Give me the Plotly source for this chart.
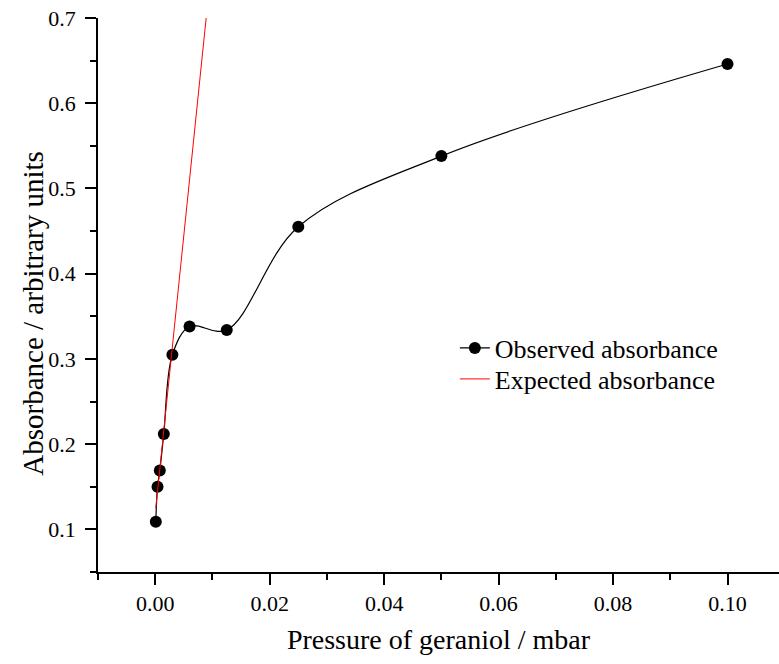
import plotly.graph_objects as go

# Observed absorbance vs. geraniol pressure
pressure = [0.0001, 0.0004, 0.0008, 0.0015, 0.003, 0.006, 0.0125, 0.025, 0.05, 0.1]
absorbance = [0.109, 0.150, 0.169, 0.212, 0.305, 0.338, 0.334, 0.455, 0.538, 0.646]

# Expected (linear) absorbance line
expected_x = [0.0001, 0.0089]
expected_y = [0.125, 0.700]

x_ticks = [0.00, 0.02, 0.04, 0.06, 0.08, 0.10]
y_ticks = [0.1, 0.2, 0.3, 0.4, 0.5, 0.6, 0.7]

FONT = "Liberation Serif, Times New Roman, serif"

fig = go.Figure()
fig.add_trace(go.Scatter(
    x=pressure, y=absorbance, mode="lines+markers",
    name="Observed absorbance", legend="legend",
    line=dict(color="black", width=1.2, shape="spline", smoothing=1.0),
    marker=dict(color="black", size=12),
))
fig.add_trace(go.Scatter(
    x=expected_x, y=expected_y, mode="lines",
    name="Expected absorbance", legend="legend2",
    line=dict(color="#ff0000", width=1),
))

axis_common = dict(
    showline=True, linecolor="black", linewidth=1.5,
    ticks="outside", ticklen=11, tickwidth=1.5, tickcolor="black",
    showgrid=False, zeroline=False, mirror=False,
    tickfont=dict(family=FONT, size=22, color="black"),
)

fig.update_xaxes(
    range=[-0.01, 0.109], tickvals=x_ticks, ticktext=[f"{v:.2f}" for v in x_ticks],
    minor=dict(dtick=0.01, tick0=0, ticks="outside", ticklen=6, tickwidth=1.5, tickcolor="black"),
    title=dict(text="Pressure of geraniol / mbar", font=dict(family=FONT, size=28, color="black"), standoff=14),
    **axis_common,
)
fig.update_yaxes(
    range=[0.05, 0.7], tickvals=y_ticks, ticktext=[f"{v:.1f}" for v in y_ticks],
    minor=dict(dtick=0.05, tick0=0, ticks="outside", ticklen=6, tickwidth=1.5, tickcolor="black"),
    ticklabelstandoff=5,
    **axis_common,
)

# Y-axis title, placed as a rotated annotation
fig.add_annotation(
    text="Absorbance / arbitrary units", textangle=-90,
    xref="paper", yref="paper", x=-0.0955, y=0.468,
    xanchor="center", yanchor="middle", showarrow=False,
    font=dict(family=FONT, size=29, color="black"),
)

legend_common = dict(
    x=0.524, xanchor="left", yanchor="top",
    font=dict(family=FONT, size=26, color="black"),
    bgcolor="rgba(0,0,0,0)",
)

fig.update_layout(
    width=779, height=664,
    margin=dict(l=98, r=0, t=18, b=92),
    plot_bgcolor="white", paper_bgcolor="white",
    showlegend=True,
    legend=dict(y=0.4467, **legend_common),
    legend2=dict(y=0.3908, **legend_common),
)

fig.write_html("out.html")
